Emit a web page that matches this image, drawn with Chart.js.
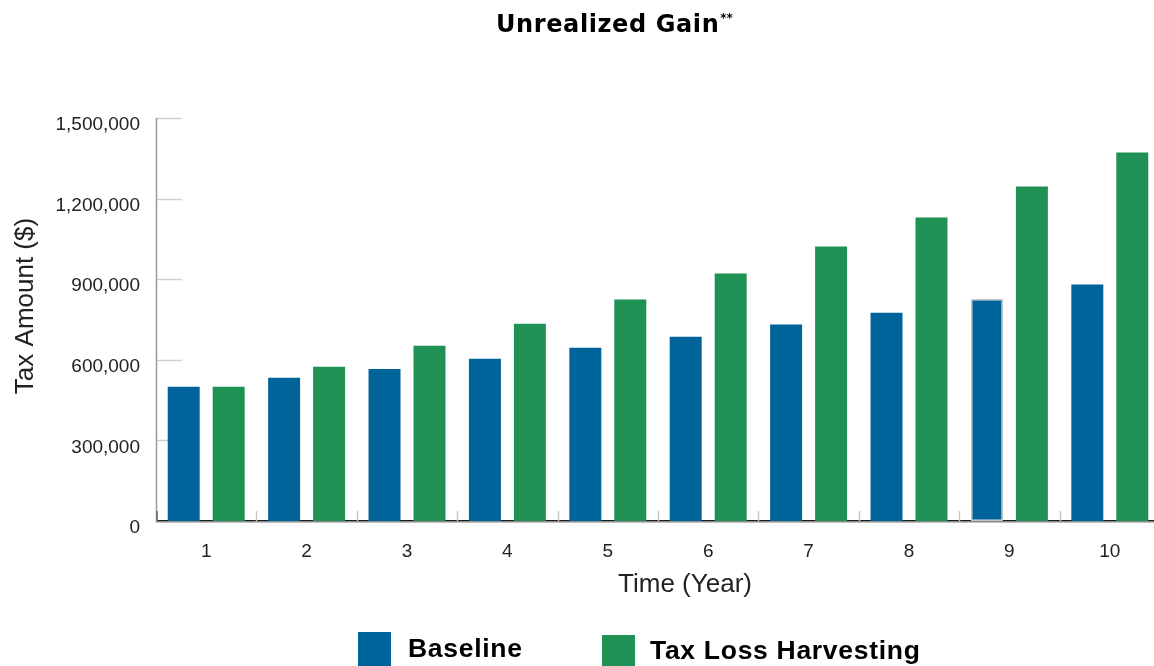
<!DOCTYPE html>
<html>
<head>
<meta charset="utf-8">
<title>Unrealized Gain</title>
<script src="https://cdn.jsdelivr.net/npm/chart.js@4/dist/chart.umd.min.js"></script>
<style>
  html, body { margin: 0; padding: 0; background: #fff; overflow: hidden; }
  #wrap { position: absolute; left: 0; top: 0; width: 1160px; height: 666px; }
</style>
</head>
<body>
<div id="wrap"><canvas id="chart" width="1160" height="666"></canvas></div>
<script>
// Years on the horizontal axis
const years = ['1', '2', '3', '4', '5', '6', '7', '8', '9', '10'];

// Tax amounts ($) per year
const baselineTax = [500000, 533000, 566000, 604000, 645000, 686000, 731000, 775000, 826000, 880000];
const harvestingTax = [500000, 574000, 652000, 734000, 824000, 921000, 1022000, 1130000, 1245000, 1372000];

// Series names
const seriesNames = ['Baseline', 'Tax Loss Harvesting'];

// Value axis range and tick spacing
const yMin = 0;
const yMax = 1500000;
const yStep = 300000;

// Text
const chartTitle = 'Unrealized Gain';
const chartTitleMark = '**';
const yAxisTitle = 'Tax Amount ($)';
const xAxisTitle = 'Time (Year)';

const BLUE = '#00649a';
const GREEN = '#1f9154';
const TEXT = '#222222';

// Axis lines, short grid stubs and category separators, drawn under the bars
const axisDecor = {
  id: 'axisDecor',
  beforeDatasetsDraw(chart) {
    const { ctx, chartArea } = chart;
    const xs = chart.scales.x;
    const ys = chart.scales.y;
    const left = chartArea.left;
    const bottom = chartArea.bottom;
    ctx.save();

    // grid stubs at each value tick
    ctx.strokeStyle = '#cfcfcf';
    ctx.lineWidth = 1.5;
    ys.ticks.forEach(t => {
      if (t.value === 0) return;
      const y = Math.round(ys.getPixelForValue(t.value)) + 0.5;
      ctx.beginPath();
      ctx.moveTo(left, y);
      ctx.lineTo(left + 26, y);
      ctx.stroke();
    });

    // vertical axis line
    ctx.strokeStyle = '#9a9a9a';
    ctx.lineWidth = 1.5;
    ctx.beginPath();
    ctx.moveTo(left + 0.5, ys.getPixelForValue(yMax));
    ctx.lineTo(left + 0.5, bottom + 1);
    ctx.stroke();

    // baseline: dark line with a pale line just under it
    ctx.strokeStyle = '#c0c0c0';
    ctx.lineWidth = 1.2;
    ctx.beginPath();
    ctx.moveTo(left, bottom + 1.5);
    ctx.lineTo(chartArea.right, bottom + 1.5);
    ctx.stroke();
    ctx.strokeStyle = '#1a1a1a';
    ctx.lineWidth = 1.5;
    ctx.beginPath();
    ctx.moveTo(left, bottom - 0.3);
    ctx.lineTo(chartArea.right, bottom - 0.3);
    ctx.stroke();

    // separators between years
    ctx.strokeStyle = '#c8c8c8';
    ctx.lineWidth = 1.5;
    for (let i = 1; i < years.length; i++) {
      const x = Math.round((xs.getPixelForValue(i - 1) + xs.getPixelForValue(i)) / 2) + 0.5;
      ctx.beginPath();
      ctx.moveTo(x, bottom - 10);
      ctx.lineTo(x, bottom);
      ctx.stroke();
    }
    // corner mark
    ctx.strokeStyle = '#7a7a7a';
    ctx.lineWidth = 2;
    ctx.beginPath();
    ctx.moveTo(left + 1, bottom - 10);
    ctx.lineTo(left + 1, bottom + 1);
    ctx.stroke();
    ctx.restore();
  }
};

// Title, axis titles and legend
const textDecor = {
  id: 'textDecor',
  afterDraw(chart) {
    const { ctx } = chart;
    ctx.save();

    // chart title with superscript mark
    ctx.fillStyle = '#000';
    ctx.textBaseline = 'alphabetic';
    ctx.textAlign = 'left';
    ctx.font = 'bold 24px "DejaVu Sans"';
    if ('letterSpacing' in ctx) ctx.letterSpacing = '0.6px';
    ctx.fillText(chartTitle, 496, 32);
    const tw = ctx.measureText(chartTitle).width;
    if ('letterSpacing' in ctx) ctx.letterSpacing = '0px';
    ctx.font = 'bold 12px "DejaVu Sans"';
    ctx.fillText(chartTitleMark, 497 + tw, 22);

    // axis titles
    ctx.fillStyle = TEXT;
    ctx.font = '26px "Liberation Sans"';
    ctx.textAlign = 'center';
    ctx.fillText(xAxisTitle, 685, 592);
    ctx.save();
    ctx.translate(33, 306);
    ctx.rotate(-Math.PI / 2);
    ctx.fillText(yAxisTitle, 0, 0);
    ctx.restore();

    // legend
    const items = chart.data.datasets.map(d => ({ label: d.label, color: d.backgroundColor }));
    const boxX = [358, 602];
    const boxY = [632, 635];
    const textX = [408, 650];
    const textY = [657, 659];
    ctx.font = 'bold 26.5px "Liberation Sans"';
    ctx.textAlign = 'left';
    if ('letterSpacing' in ctx) ctx.letterSpacing = '0.7px';
    items.forEach((it, i) => {
      ctx.fillStyle = it.color;
      ctx.fillRect(boxX[i], boxY[i], 33, 40);
      ctx.fillStyle = '#000';
      ctx.fillText(it.label, textX[i], textY[i]);
    });
    ctx.restore();
  }
};

new Chart(document.getElementById('chart'), {
  type: 'bar',
  data: {
    labels: years,
    datasets: [
      {
        label: seriesNames[0],
        data: baselineTax,
        backgroundColor: BLUE,
        borderColor: '#c4c4c4',
        borderWidth: ctx => (ctx.dataIndex === 8 ? 1.5 : 0),
        borderSkipped: false,
        categoryPercentage: 0.896,
        barPercentage: 0.711
      },
      {
        label: seriesNames[1],
        data: harvestingTax,
        backgroundColor: GREEN,
        borderWidth: 0,
        categoryPercentage: 0.896,
        barPercentage: 0.711
      }
    ]
  },
  options: {
    responsive: false,
    animation: false,
    devicePixelRatio: 1,
    layout: { padding: { top: 118, right: 0, bottom: 0, left: 0 } },
    plugins: {
      legend: { display: false },
      title: { display: false },
      tooltip: { enabled: false }
    },
    scales: {
      x: {
        offset: true,
        grid: { display: false, drawTicks: false },
        border: { display: false },
        ticks: {
          color: TEXT,
          font: { family: '"Liberation Sans"', size: 19 },
          padding: 19,
          maxRotation: 0
        },
        afterFit(scale) { scale.height = 145; }
      },
      y: {
        min: yMin,
        max: yMax,
        grid: { display: false, drawTicks: false },
        border: { display: false },
        ticks: {
          stepSize: yStep,
          color: TEXT,
          font: { family: '"Liberation Sans"', size: 19 },
          padding: 16,
          labelOffset: 7,
          callback: v => v.toLocaleString('en-US')
        },
        afterFit(scale) { scale.width = 156; }
      }
    }
  },
  plugins: [axisDecor, textDecor]
});
</script>
</body>
</html>
